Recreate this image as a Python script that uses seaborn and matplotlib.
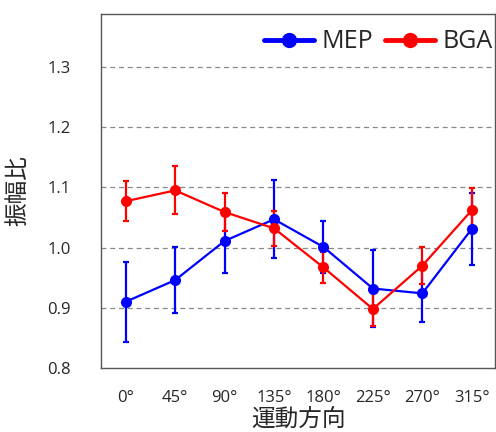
import numpy as np
import pandas as pd
import matplotlib
matplotlib.use("Agg")
import matplotlib.pyplot as plt
import seaborn as sns
from matplotlib.lines import Line2D

# ========== DATA ==========
directions = ["0°", "45°", "90°", "135°", "180°", "225°", "270°", "315°"]
mep_mean = [0.910, 0.946, 1.011, 1.047, 1.001, 0.932, 0.924, 1.031]
mep_err = [0.066, 0.055, 0.053, 0.065, 0.043, 0.064, 0.048, 0.060]
bga_mean = [1.077, 1.095, 1.059, 1.032, 0.967, 0.898, 0.970, 1.062]
bga_err = [0.033, 0.040, 0.031, 0.029, 0.026, 0.028, 0.031, 0.037]
yticks = [0.8, 0.9, 1.0, 1.1, 1.2, 1.3]

sns.set_style("white")
plt.rcParams['font.family'] = ['Open Sans', 'Noto Sans CJK JP', 'DejaVu Sans']

df = pd.DataFrame({
    "pos": list(range(len(directions))) * 2,
    "value": mep_mean + bga_mean,
    "series": ["MEP"] * len(directions) + ["BGA"] * len(directions),
})

fig = plt.figure(figsize=(4.96, 4.32), dpi=100)
ax = fig.add_axes([101 / 496, 64 / 432, 394 / 496, 354 / 432])

colors = {"MEP": "#0000ff", "BGA": "#ff0000"}
for name, err in [("MEP", mep_err), ("BGA", bga_err)]:
    sub = df[df["series"] == name]
    ax.errorbar(sub["pos"], sub["value"], yerr=err, fmt="none",
                ecolor=colors[name], elinewidth=1.6, capsize=2.5, capthick=1.6, zorder=3)
sns.lineplot(data=df, x="pos", y="value", hue="series", palette=colors,
             marker="o", markersize=8, markeredgewidth=0, linewidth=1.6,
             ax=ax, zorder=4, legend=False)

# grid
for yv in yticks[1:]:
    ax.axhline(yv, color="#888888", linestyle=(0, (4, 3)), linewidth=0.9, zorder=1)

ax.set_xlim(-0.5, 7.47)
ax.set_ylim(0.8, 1.388)
ax.set_xticks(range(len(directions)))
ax.set_xticklabels(directions, fontsize=12)
ax.set_yticks(yticks)
ax.set_yticklabels([f"{v:.1f}" for v in yticks], fontsize=12)
ax.tick_params(axis="y", direction="in", length=4, color="#999999", pad=22)
ax.tick_params(axis="x", direction="in", length=4, color="#999999", pad=16)
for s in ax.spines.values():
    s.set_color("#555555")
    s.set_linewidth(1.0)

ax.set_xlabel("運動方向", fontsize=17, labelpad=1)
ax.set_ylabel("振幅比", fontsize=17, labelpad=12)

# legend with thicker handles
handles = [Line2D([], [], color=colors[n], marker="o", markersize=11,
                  markeredgewidth=0, linewidth=3.5) for n in ["MEP", "BGA"]]
ax.legend(handles, ["MEP", "BGA"], loc="upper right", ncol=2, frameon=False,
          fontsize=18, handlelength=2.0, columnspacing=0.5, handletextpad=0.3,
          borderaxespad=0.0, bbox_to_anchor=(1.02, 0.985))

fig.savefig("out.png", dpi=100)
